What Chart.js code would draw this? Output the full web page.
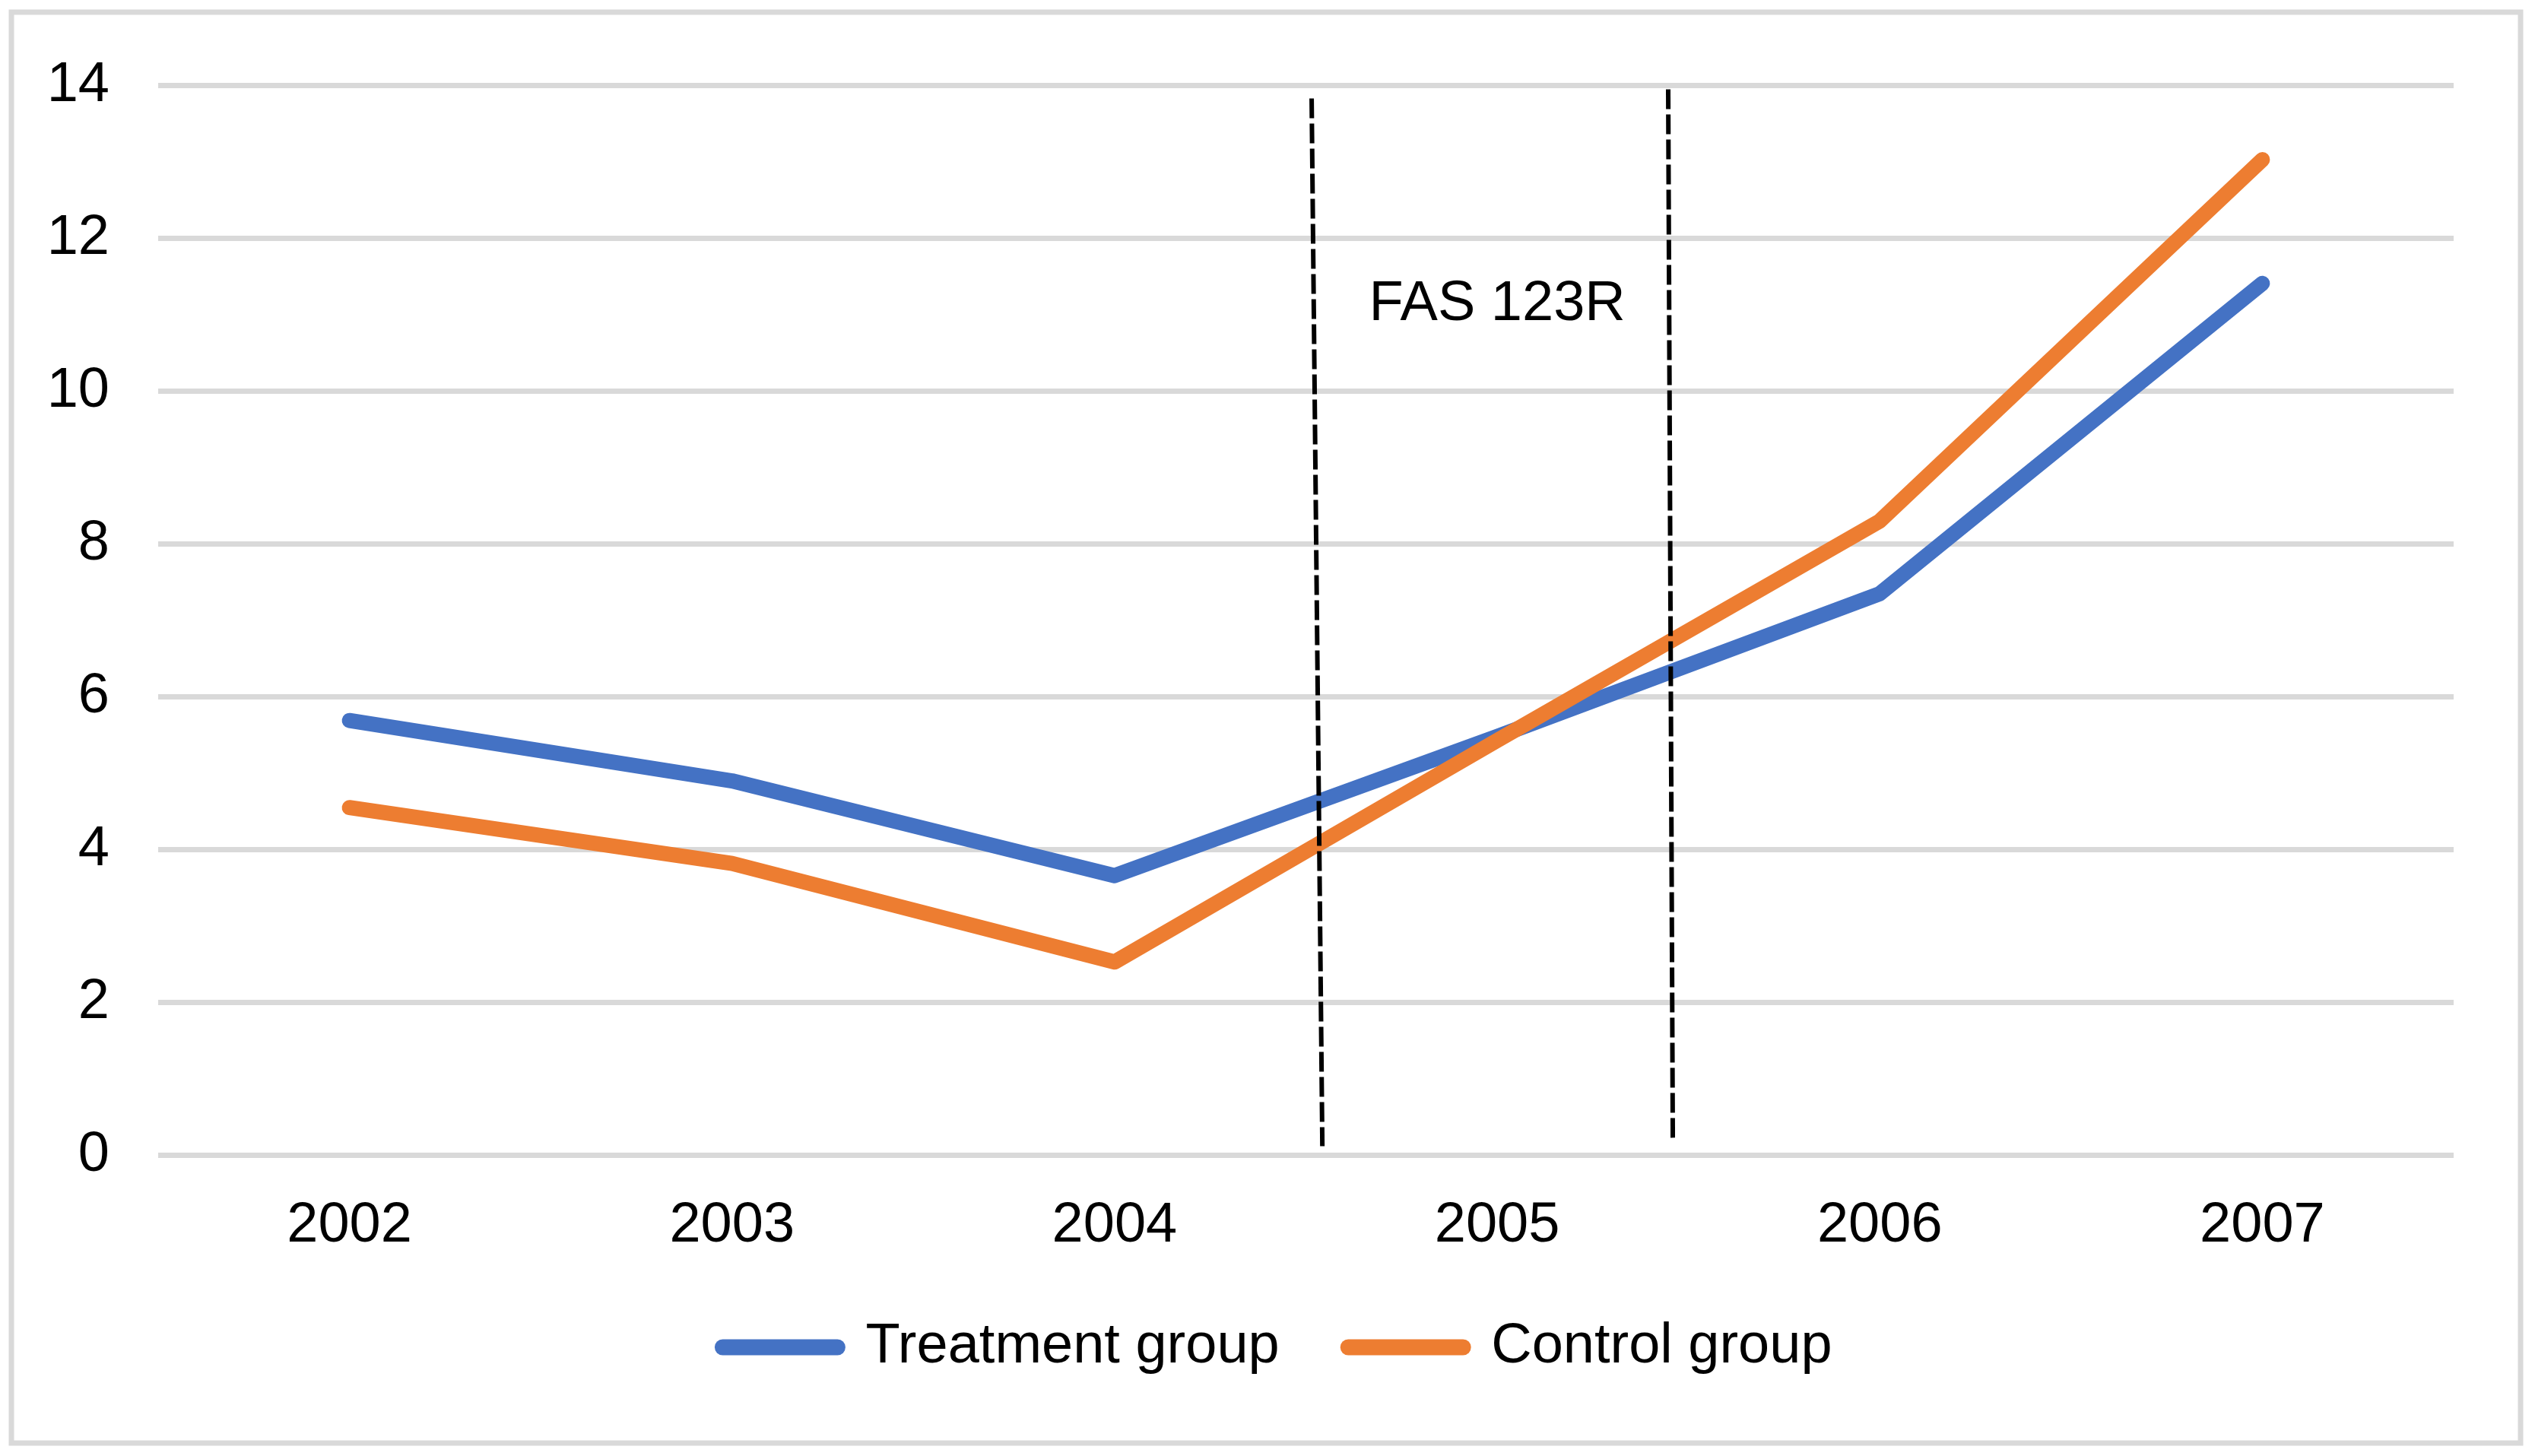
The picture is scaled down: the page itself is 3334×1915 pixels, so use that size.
<!DOCTYPE html>
<html lang="en">
<head>
    <meta charset="UTF-8">
    <title>FAS 123R</title>
    <script src="https://cdn.jsdelivr.net/npm/chart.js"></script>
    <style>
        body { margin: 0; background: #fff; }
        canvas { display: block; }
    </style>
</head>
<body>

    <canvas id="myChart" width="3334" height="1915"></canvas>

    <script>
        // values
        const years = ['2002', '2003', '2004', '2005', '2006', '2007'];
        const treatment = [5.69, 4.90, 3.66, 5.48, 7.35, 11.41];
        const control = [4.55, 3.82, 2.53, 5.43, 8.30, 13.03];
        const yTicks = [0, 2, 4, 6, 8, 10, 12, 14];

        // the two dashed markers, x in category units (0 = 2002)
        const leftMarkX = [2.515, 2.543];
        const leftMarkY = [13.83, 0.12];
        const rightMarkX = [3.447, 3.459];
        const rightMarkY = [13.95, 0.23];
        const noteText = 'FAS 123R';
        const noteAt = [3, 10.93];

        const FONT = "'Liberation Sans', Arial, sans-serif";
        Chart.defaults.font.family = FONT;
        Chart.defaults.font.size = 74;
        Chart.defaults.color = '#000';

        const pairs = (xs, ys) => xs.map((x, i) => ({ x: x, y: ys[i] }));

        // white page, grey frame and the text note
        const extras = {
            id: 'extras',
            beforeDraw(chart) {
                const c = chart.ctx;
                c.save();
                c.fillStyle = '#fff';
                c.fillRect(0, 0, chart.width, chart.height);
                c.strokeStyle = '#d9d9d9';
                c.lineWidth = 7;
                c.strokeRect(15, 16, 3300, 1882);
                c.restore();
            },
            afterDatasetsDraw(chart) {
                const c = chart.ctx;
                const x = chart.scales.x2.getPixelForValue(noteAt[0]);
                const y = chart.scales.y.getPixelForValue(noteAt[1]);
                c.save();
                c.font = '74px ' + FONT;
                c.fillStyle = '#000';
                c.textAlign = 'center';
                c.textBaseline = 'alphabetic';
                c.fillText(noteText, x, y);
                c.restore();
            }
        };

        const marker = (pts) => ({
            data: pts,
            xAxisID: 'x2',
            borderColor: '#000',
            borderWidth: 6,
            borderDash: [26, 7],
            pointRadius: 0,
            order: 0
        });

        const series = (label, values, colour, order) => ({
            label: label,
            data: values,
            borderColor: colour,
            backgroundColor: colour,
            borderWidth: 20,
            borderCapStyle: 'round',
            borderJoinStyle: 'round',
            pointRadius: 0,
            order: order
        });

        const data = {
            labels: years,
            datasets: [
                series('Treatment group', treatment, '#4472C4', 2),
                series('Control group', control, '#ED7D31', 1),
                marker(pairs(leftMarkX, leftMarkY)),
                marker(pairs(rightMarkX, rightMarkY))
            ]
        };

        const config = {
            type: 'line',
            data: data,
            plugins: [extras],
            options: {
                responsive: false,
                devicePixelRatio: 1,
                animation: false,
                events: [],
                layout: {
                    padding: { left: 26, right: 0, top: 112.5, bottom: 96 }
                },
                scales: {
                    x: {
                        offset: true,
                        grid: { display: false },
                        border: { display: false },
                        ticks: { padding: 41, maxRotation: 0, autoSkip: false },
                        afterFit: s => { s.height = 125; }
                    },
                    x2: {
                        type: 'linear',
                        display: false,
                        min: -0.5,
                        max: 5.5
                    },
                    y: {
                        min: 0,
                        max: 14,
                        afterBuildTicks: s => { s.ticks = yTicks.map(v => ({ value: v })); },
                        grid: { color: '#d9d9d9', lineWidth: 7, drawTicks: false },
                        border: { display: false },
                        ticks: { padding: 64 },
                        afterFit: s => { s.width = 182; }
                    },
                    // empty right axis, only keeps the white margin on the right
                    yRight: {
                        type: 'linear',
                        position: 'right',
                        grid: { display: false },
                        border: { display: false },
                        ticks: { display: false },
                        afterFit: s => { s.width = 107; }
                    }
                },
                plugins: {
                    tooltip: { enabled: false },
                    legend: {
                        position: 'bottom',
                        labels: {
                            usePointStyle: true,
                            pointStyle: 'line',
                            pointStyleWidth: 151,
                            padding: 90.5,
                            filter: item => item.datasetIndex < 2,
                            sort: (a, b) => a.datasetIndex - b.datasetIndex,
                            generateLabels: chart =>
                                Chart.defaults.plugins.legend.labels.generateLabels(chart)
                                    .map(item => Object.assign(item, { lineWidth: 21, lineCap: 'round' }))
                        }
                    }
                }
            }
        };

        const ctx = document.getElementById('myChart').getContext('2d');
        const chart = new Chart(ctx, config);
    </script>
</body>
</html>
